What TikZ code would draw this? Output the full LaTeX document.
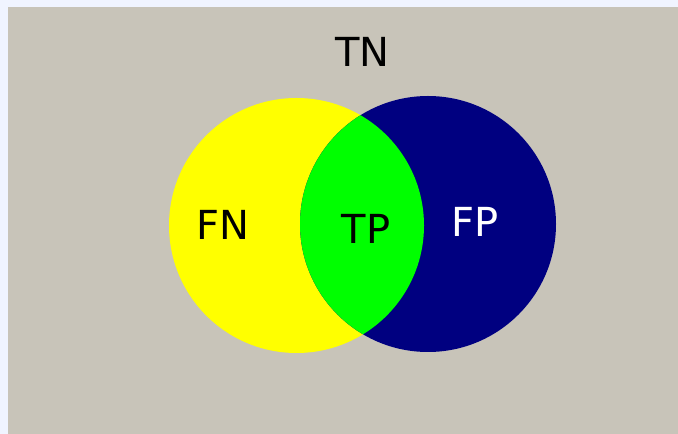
\documentclass[tikz,border=0pt]{standalone}
\usepackage{fontspec}
\setmainfont{DejaVu Sans}
\definecolor{outerbg}{RGB}{240,244,255}
\definecolor{panelbg}{RGB}{200,196,185}
\definecolor{fnyellow}{RGB}{255,255,0}
\definecolor{fpblue}{RGB}{0,0,128}
\definecolor{tpgreen}{RGB}{0,255,0}
\begin{document}
\begin{tikzpicture}[x=1pt,y=1pt,
  lbl/.style={anchor=base,inner sep=0pt,font=\fontsize{40}{48}\selectfont}]
\useasboundingbox (0,0) rectangle (678,434);
\fill[outerbg] (0,0) rectangle (678,434);
\fill[panelbg] (8,0) rectangle (678,427);
\fill[fnyellow] (296.5,208.5) circle (127.5);
\fill[fpblue] (428,210) circle (128);
\begin{scope}
  \clip (296.5,208.5) circle (127.5);
  \fill[tpgreen] (428,210) circle (128);
\end{scope}
\node[lbl] (tn) at (362.5,367.5) {TN};
\node[lbl] (fn) at (222.5,194.5) {FN};
\node[lbl] (tp) at (366,190.5) {TP};
\node[lbl,text=white] (fp) at (475,197.5) {FP};
\end{tikzpicture}
\end{document}
